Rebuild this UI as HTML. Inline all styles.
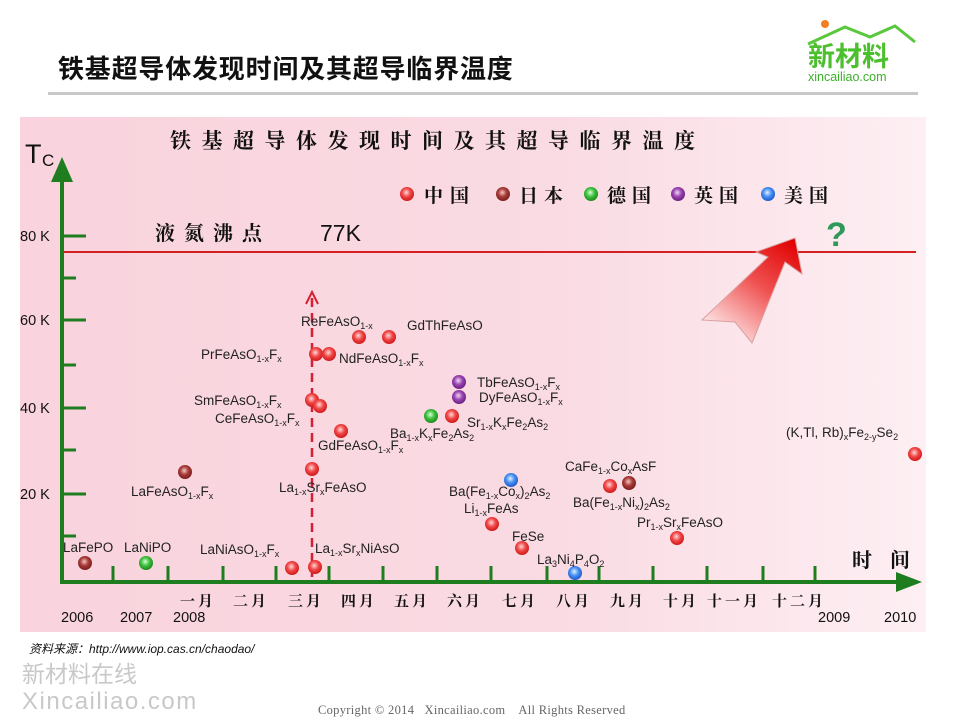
<!DOCTYPE html>
<html><head><meta charset="utf-8"><style>
html,body{margin:0;padding:0;background:#fff;width:960px;height:720px;overflow:hidden}
svg{display:block}
.lb{font-family:"Liberation Sans","DejaVu Sans",sans-serif;font-size:13.5px;fill:#222}
.cj{font-family:"Noto Serif CJK SC","Noto Sans CJK SC",serif;font-weight:bold;fill:#111}
</style></head><body>
<svg width="960" height="720" viewBox="0 0 960 720" xmlns="http://www.w3.org/2000/svg">
<defs>
<linearGradient id="bg" x1="0" y1="0" x2="1" y2="0">
<stop offset="0" stop-color="#f9d3dd"/><stop offset="0.6" stop-color="#fadbe3"/><stop offset="1" stop-color="#fdeff3"/></linearGradient>
<radialGradient id="r" cx="0.45" cy="0.4" r="0.6"><stop offset="0" stop-color="#ffd8d8"/><stop offset="0.5" stop-color="#f04848"/><stop offset="1" stop-color="#d01818"/></radialGradient>
<radialGradient id="d" cx="0.45" cy="0.4" r="0.6"><stop offset="0" stop-color="#f0c8c0"/><stop offset="0.5" stop-color="#a83a38"/><stop offset="1" stop-color="#7a1e1e"/></radialGradient>
<radialGradient id="g" cx="0.45" cy="0.4" r="0.6"><stop offset="0" stop-color="#d8ffd8"/><stop offset="0.5" stop-color="#40c040"/><stop offset="1" stop-color="#1a8a1a"/></radialGradient>
<radialGradient id="p" cx="0.45" cy="0.4" r="0.6"><stop offset="0" stop-color="#f0d8f8"/><stop offset="0.5" stop-color="#9a44b0"/><stop offset="1" stop-color="#6a2080"/></radialGradient>
<radialGradient id="b" cx="0.45" cy="0.4" r="0.6"><stop offset="0" stop-color="#e0f0ff"/><stop offset="0.5" stop-color="#4890f0"/><stop offset="1" stop-color="#1a5ad0"/></radialGradient>
<linearGradient id="ar" x1="0.2" y1="1" x2="0.9" y2="0"><stop offset="0" stop-color="#fff4f4"/><stop offset="0.55" stop-color="#f05050"/><stop offset="1" stop-color="#e00000"/></linearGradient>
</defs>
<!-- header -->
<text x="58" y="78" style="font-family:'Noto Sans CJK SC',sans-serif;font-weight:bold;font-size:26px;letter-spacing:0.8px;fill:#111">铁基超导体发现时间及其超导临界温度</text>
<rect x="48" y="92" width="870" height="3" fill="#c8c8c8"/>
<!-- logo -->
<circle cx="825" cy="24" r="4" fill="#f08020"/>
<path d="M808 44 L845 27 L870 37 L895 26 L915 42" stroke="#5ac83c" stroke-width="3" fill="none"/>
<text x="808" y="66" style="font-family:'Noto Sans CJK SC',sans-serif;font-weight:bold;font-size:27px;fill:#4cbf2e">新材料</text>
<text x="808" y="81" style="font-family:'Liberation Sans',sans-serif;font-size:12.5px;fill:#3cb02a">xincailiao.com</text>
<!-- panel -->
<rect x="20" y="117" width="906" height="515" fill="url(#bg)"/>
<text x="170" y="148" class="cj" style="font-size:21px;letter-spacing:10.5px">铁基超导体发现时间及其超导临界温度</text>
<text x="25" y="163" style="font-family:'Liberation Sans',sans-serif;font-size:27px;fill:#111">T</text>
<text x="42" y="166" style="font-family:'Liberation Sans',sans-serif;font-size:17px;fill:#111">C</text>
<!-- legend -->
<circle cx="407" cy="194" r="7" fill="url(#r)"/><text x="424" y="202" class="cj" style="font-size:19px;letter-spacing:7px">中国</text>
<circle cx="503" cy="194" r="7" fill="url(#d)"/><text x="519" y="202" class="cj" style="font-size:19px;letter-spacing:6px">日本</text>
<circle cx="591" cy="194" r="7" fill="url(#g)"/><text x="607" y="202" class="cj" style="font-size:19px;letter-spacing:6px">德国</text>
<circle cx="678" cy="194" r="7" fill="url(#p)"/><text x="694" y="202" class="cj" style="font-size:19px;letter-spacing:6px">英国</text>
<circle cx="768" cy="194" r="7" fill="url(#b)"/><text x="784" y="202" class="cj" style="font-size:19px;letter-spacing:6px">美国</text>
<text x="155" y="240" class="cj" style="font-size:20px;letter-spacing:9px">液氮沸点</text>
<text x="320" y="241" style="font-family:'Liberation Sans',sans-serif;font-size:23px;fill:#111">77K</text>
<!-- red line -->
<line x1="62" y1="252" x2="916" y2="252" stroke="#d42020" stroke-width="2"/>
<!-- axes -->
<g stroke="#1e7d1e" stroke-width="4" fill="none">
<line x1="62" y1="175" x2="62" y2="584"/>
<line x1="60" y1="582" x2="905" y2="582"/>
<path d="M62 236 H86 M62 320 H86 M62 408 H86 M62 494 H86 M62 278 H76 M62 365 H76 M62 450 H76 M62 536 H76" stroke-width="3"/>
<path d="M113 566V582 M168 566V582 M223 566V582 M276 566V582 M329 566V582 M383 566V582 M437 566V582 M491 566V582 M547 566V582 M599 566V582 M653 566V582 M707 566V582 M763 566V582 M815 566V582" stroke-width="3"/>
</g>
<polygon points="62,157 51,182 73,182" fill="#1e7d1e"/>
<polygon points="922,582 896,572 896,592" fill="#1e7d1e"/>
<g style="font-family:'Liberation Sans',sans-serif;font-size:14.5px;fill:#111">
<text x="20" y="241">80 K</text><text x="20" y="325">60 K</text><text x="20" y="413">40 K</text><text x="20" y="499">20 K</text>
<text x="61" y="622">2006</text><text x="120" y="622">2007</text><text x="173" y="622">2008</text>
<text x="818" y="622">2009</text><text x="884" y="622">2010</text>
</g>
<g class="cj" style="font-size:15px;letter-spacing:3px">
<text x="180" y="606">一月</text><text x="233" y="606">二月</text><text x="288" y="606">三月</text><text x="341" y="606">四月</text><text x="394" y="606">五月</text><text x="447" y="606">六月</text><text x="502" y="606">七月</text><text x="556" y="606">八月</text><text x="610" y="606">九月</text><text x="663" y="606">十月</text><text x="707" y="606">十一月</text><text x="772" y="606">十二月</text>
</g>
<text x="852" y="567" class="cj" style="font-size:20px;letter-spacing:18px">时间</text>
<!-- dashed vertical -->
<line x1="312" y1="298" x2="312" y2="582" stroke="#d42030" stroke-width="2.5" stroke-dasharray="9,6"/>
<path d="M306 304 L312 292 L318 304" stroke="#d42030" stroke-width="2" fill="none"/>
<!-- big arrow -->
<polygon points="795,238 802,274 785,262 752,343 735,322 702,320 768,257 756,252" fill="url(#ar)" stroke="#d8a0a0" stroke-width="1"/>
<text x="826" y="246" style="font-family:'Liberation Sans',sans-serif;font-size:34px;font-weight:bold;fill:#2e9a5a">?</text>
<!-- dots -->
<g>
<circle cx="85" cy="563" r="7" fill="url(#d)"/>
<circle cx="146" cy="563" r="7" fill="url(#g)"/>
<circle cx="185" cy="472" r="7" fill="url(#d)"/>
<circle cx="292" cy="568" r="7" fill="url(#r)"/>
<circle cx="315" cy="567" r="7" fill="url(#r)"/>
<circle cx="312" cy="469" r="7" fill="url(#r)"/>
<circle cx="341" cy="431" r="7" fill="url(#r)"/>
<circle cx="312" cy="400" r="7" fill="url(#r)"/>
<circle cx="320" cy="406" r="7" fill="url(#r)"/>
<circle cx="316" cy="354" r="7" fill="url(#r)"/>
<circle cx="329" cy="354" r="7" fill="url(#r)"/>
<circle cx="359" cy="337" r="7" fill="url(#r)"/>
<circle cx="389" cy="337" r="7" fill="url(#r)"/>
<circle cx="431" cy="416" r="7" fill="url(#g)"/>
<circle cx="452" cy="416" r="7" fill="url(#r)"/>
<circle cx="459" cy="382" r="7" fill="url(#p)"/>
<circle cx="459" cy="397" r="7" fill="url(#p)"/>
<circle cx="511" cy="480" r="7" fill="url(#b)"/>
<circle cx="492" cy="524" r="7" fill="url(#r)"/>
<circle cx="522" cy="548" r="7" fill="url(#r)"/>
<circle cx="575" cy="573" r="7" fill="url(#b)"/>
<circle cx="610" cy="486" r="7" fill="url(#r)"/>
<circle cx="629" cy="483" r="7" fill="url(#d)"/>
<circle cx="677" cy="538" r="7" fill="url(#r)"/>
<circle cx="915" cy="454" r="7" fill="url(#r)"/>
</g>
<!-- labels -->
<g class="lb">
<text x="63" y="552">LaFePO</text>
<text x="124" y="552">LaNiPO</text>
<text x="131" y="496">LaFeAsO<tspan font-size="9" dy="3">1-x</tspan><tspan dy="-3">F</tspan><tspan font-size="9" dy="3">x</tspan></text>
<text x="200" y="554">LaNiAsO<tspan font-size="9" dy="3">1-x</tspan><tspan dy="-3">F</tspan><tspan font-size="9" dy="3">x</tspan></text>
<text x="315" y="553">La<tspan font-size="9" dy="3">1-x</tspan><tspan dy="-3">Sr</tspan><tspan font-size="9" dy="3">x</tspan><tspan dy="-3">NiAsO</tspan></text>
<text x="279" y="492">La<tspan font-size="9" dy="3">1-x</tspan><tspan dy="-3">Sr</tspan><tspan font-size="9" dy="3">x</tspan><tspan dy="-3">FeAsO</tspan></text>
<text x="194" y="405">SmFeAsO<tspan font-size="9" dy="3">1-x</tspan><tspan dy="-3">F</tspan><tspan font-size="9" dy="3">x</tspan></text>
<text x="215" y="423">CeFeAsO<tspan font-size="9" dy="3">1-x</tspan><tspan dy="-3">F</tspan><tspan font-size="9" dy="3">x</tspan></text>
<text x="318" y="450">GdFeAsO<tspan font-size="9" dy="3">1-x</tspan><tspan dy="-3">F</tspan><tspan font-size="9" dy="3">x</tspan></text>
<text x="201" y="359">PrFeAsO<tspan font-size="9" dy="3">1-x</tspan><tspan dy="-3">F</tspan><tspan font-size="9" dy="3">x</tspan></text>
<text x="339" y="363">NdFeAsO<tspan font-size="9" dy="3">1-x</tspan><tspan dy="-3">F</tspan><tspan font-size="9" dy="3">x</tspan></text>
<text x="301" y="326">ReFeAsO<tspan font-size="9" dy="3">1-x</tspan></text>
<text x="407" y="330">GdThFeAsO</text>
<text x="477" y="387">TbFeAsO<tspan font-size="9" dy="3">1-x</tspan><tspan dy="-3">F</tspan><tspan font-size="9" dy="3">x</tspan></text>
<text x="479" y="402">DyFeAsO<tspan font-size="9" dy="3">1-x</tspan><tspan dy="-3">F</tspan><tspan font-size="9" dy="3">x</tspan></text>
<text x="467" y="427">Sr<tspan font-size="9" dy="3">1-x</tspan><tspan dy="-3">K</tspan><tspan font-size="9" dy="3">x</tspan><tspan dy="-3">Fe</tspan><tspan font-size="9" dy="3">2</tspan><tspan dy="-3">As</tspan><tspan font-size="9" dy="3">2</tspan></text>
<text x="390" y="438">Ba<tspan font-size="9" dy="3">1-x</tspan><tspan dy="-3">K</tspan><tspan font-size="9" dy="3">x</tspan><tspan dy="-3">Fe</tspan><tspan font-size="9" dy="3">2</tspan><tspan dy="-3">As</tspan><tspan font-size="9" dy="3">2</tspan></text>
<text x="449" y="496">Ba(Fe<tspan font-size="9" dy="3">1-x</tspan><tspan dy="-3">Co</tspan><tspan font-size="9" dy="3">x</tspan><tspan dy="-3">)</tspan><tspan font-size="9" dy="3">2</tspan><tspan dy="-3">As</tspan><tspan font-size="9" dy="3">2</tspan></text>
<text x="464" y="513">Li<tspan font-size="9" dy="3">1-x</tspan><tspan dy="-3">FeAs</tspan></text>
<text x="512" y="541">FeSe</text>
<text x="537" y="564">La<tspan font-size="9" dy="3">3</tspan><tspan dy="-3">Ni</tspan><tspan font-size="9" dy="3">4</tspan><tspan dy="-3">P</tspan><tspan font-size="9" dy="3">4</tspan><tspan dy="-3">O</tspan><tspan font-size="9" dy="3">2</tspan></text>
<text x="565" y="471">CaFe<tspan font-size="9" dy="3">1-x</tspan><tspan dy="-3">Co</tspan><tspan font-size="9" dy="3">x</tspan><tspan dy="-3">AsF</tspan></text>
<text x="573" y="507">Ba(Fe<tspan font-size="9" dy="3">1-x</tspan><tspan dy="-3">Ni</tspan><tspan font-size="9" dy="3">x</tspan><tspan dy="-3">)</tspan><tspan font-size="9" dy="3">2</tspan><tspan dy="-3">As</tspan><tspan font-size="9" dy="3">2</tspan></text>
<text x="637" y="527">Pr<tspan font-size="9" dy="3">1-x</tspan><tspan dy="-3">Sr</tspan><tspan font-size="9" dy="3">x</tspan><tspan dy="-3">FeAsO</tspan></text>
<text x="786" y="437">(K,Tl, Rb)<tspan font-size="9" dy="3">x</tspan><tspan dy="-3">Fe</tspan><tspan font-size="9" dy="3">2-y</tspan><tspan dy="-3">Se</tspan><tspan font-size="9" dy="3">2</tspan></text>
</g>
<!-- footer -->
<text x="29" y="653" style="font-family:'Liberation Sans','Noto Sans CJK SC',sans-serif;font-style:italic;font-size:12px;fill:#111">资料来源：http://www.iop.cas.cn/chaodao/</text>
<text x="22" y="682" style="font-family:'Noto Sans CJK SC',sans-serif;font-size:23px;fill:#c8c8c8">新材料在线</text>
<text x="22" y="709" style="font-family:'Liberation Sans',sans-serif;font-size:24px;letter-spacing:1.5px;fill:#c8c8c8">Xincailiao.com</text>
<text x="318" y="714" xml:space="preserve" style="font-family:'Liberation Serif',serif;font-size:12.5px;letter-spacing:0.3px;fill:#666;white-space:pre">Copyright © 2014   Xincailiao.com    All Rights Reserved</text>
</svg>
</body></html>
